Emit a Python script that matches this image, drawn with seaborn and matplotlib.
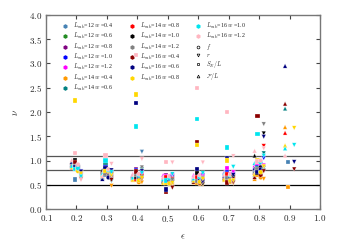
import numpy as np
import pandas as pd
import seaborn as sns
import matplotlib.pyplot as plt
from matplotlib.lines import Line2D
from matplotlib.ticker import FuncFormatter

nan = np.nan

# epsilon values
eps = [0.2, 0.3, 0.4, 0.5, 0.6, 0.7, 0.8, 0.9]

# groups (L_sub, w) and their colours
L_sub = [12, 12, 12, 12, 12, 14, 14, 14, 14, 14, 16, 16, 16, 16, 16]
w_val = [0.4, 0.6, 0.8, 1.0, 1.2, 0.4, 0.6, 0.8, 1.0, 1.2, 0.4, 0.6, 0.8, 1.0, 1.2]
farben = ["#4682b4", "#228b22", "#800080", "#0000ff", "#ff00ff",
          "#ff9900", "#008080", "#ff0000", "#000000", "#808080",
          "#8b0000", "#000080", "#ffd700", "#00e5ee", "#ffb6c1"]

# nu from S_E/L  (rows = eps, cols = groups)
nu_SE = [
    [0.61, 0.92, 0.95, 0.88, 0.85, 0.90, 0.96, 0.97, 1.00, 0.93, 0.97, 0.86, 2.24, 0.82, 1.16],
    [0.70, 0.78, 0.88, 0.92, 0.82, 0.76, 0.95, 0.74, 0.80, 0.72, 0.83, 0.85, 0.78, 1.00, 1.10],
    [0.65, 0.70, 0.82, 0.80, 0.72, 0.60, 0.68, 0.63, 0.66, 0.70, 0.77, 2.19, 2.36, 1.70, 3.17],
    [0.60, 0.55, 0.70, 0.58, 0.68, 0.56, 0.62, 0.65, 0.52, 0.57, 0.36, 0.40, 0.53, 0.59, 0.97],
    [0.60, 0.66, 0.72, 0.78, 0.70, 0.55, 0.62, 0.65, 0.75, 0.58, 1.38, 0.82, 1.32, 1.85, 2.50],
    [0.66, 0.70, 0.75, 0.80, 0.85, 0.62, 0.68, 0.72, 0.60, 0.64, 0.55, 1.05, 1.00, 1.27, 2.00],
    [0.80, 0.84, 0.88, 0.92, 0.95, 0.70, 0.85, 0.78, 0.75, 0.82, 1.92, 0.76, 1.00, 1.55, 0.98],
    [0.97, nan, nan, nan, nan, 0.45, nan, nan, nan, nan, nan, nan, nan, nan, nan],
]

# nu from F/L
nu_F = [
    [0.95, 0.90, 0.85, 0.92, 0.88, 0.87, 0.93, 0.96, 0.98, 0.90, 0.91, 0.97, 0.86, 0.89, 1.01],
    [0.65, 0.70, 0.72, 0.78, 0.74, 0.68, 0.66, 0.76, 0.80, 0.72, 0.75, 0.62, 0.70, 0.73, 0.68],
    [0.62, 0.65, 0.70, 0.68, 0.72, 0.60, 0.64, 0.66, 0.70, 0.63, 0.67, 0.69, 0.61, 0.65, 0.71],
    [0.58, 0.62, 0.65, 0.60, 0.70, 0.55, 0.60, 0.63, 0.57, 0.61, 0.56, 0.59, 0.54, 0.62, 0.66],
    [0.58, 0.60, 0.63, 0.66, 0.70, 0.55, 0.57, 0.62, 0.60, 0.64, 0.56, 0.61, 0.59, 0.63, 0.67],
    [0.62, 0.66, 0.68, 0.72, 0.76, 0.60, 0.64, 0.67, 0.70, 0.65, 0.63, 0.69, 0.61, 0.74, 0.71],
    [0.70, 0.76, 0.82, 0.86, 0.90, 0.62, 0.80, 0.75, 1.10, 0.78, 0.66, 0.84, 0.72, 0.95, 1.20],
    [nan, nan, nan, nan, nan, 1.69, 2.07, 1.57, nan, nan, 2.17, 2.95, 1.31, 1.25, 1.10],
]

# nu from f
nu_f = [
    [0.85, 0.88, 0.80, 0.83, 0.86, 0.82, 0.84, 0.81, 0.87, 0.89, 0.79, 0.90, 0.78, 0.84, 0.92],
    [0.66, 0.70, 0.74, 0.76, 0.72, 0.68, 0.73, 0.71, 0.75, 0.69, 0.77, 0.65, 0.78, 0.80, 0.82],
    [0.58, 0.62, 0.66, 0.70, 0.68, 0.55, 0.60, 0.64, 0.67, 0.61, 0.65, 0.63, 0.59, 0.69, 0.72],
    [0.55, 0.58, 0.62, 0.60, 0.66, 0.52, 0.57, 0.61, 0.56, 0.59, 0.54, 0.58, 0.53, 0.63, 0.68],
    [0.55, 0.58, 0.62, 0.65, 0.68, 0.52, 0.57, 0.60, 0.63, 0.59, 0.54, 0.61, 0.56, 0.66, 0.70],
    [0.60, 0.63, 0.66, 0.70, 0.72, 0.56, 0.62, 0.64, 0.67, 0.61, 0.58, 0.65, 0.59, 0.69, 0.71],
    [0.75, 0.80, 0.85, 0.88, 0.92, 0.65, 0.78, 0.83, 0.86, 0.80, 0.70, 0.82, 0.76, 0.96, 1.00],
    [nan] * 15,
]

# nu from r
nu_r = [
    [0.70, 0.75, 0.72, 0.78, 0.68, 0.65, 0.74, 0.71, 0.76, 0.69, 0.62, 0.77, 0.73, 0.67, 0.60],
    [0.62, 0.66, 0.70, 0.74, 0.68, 0.48, 0.58, 0.64, 0.72, 0.66, 0.60, 0.80, 0.70, 0.76, 0.93],
    [1.18, 0.66, 0.70, 0.75, 0.72, 0.55, 0.82, 0.68, 0.65, 0.86, 0.62, 0.78, 0.64, 0.74, 1.03],
    [0.60, 0.64, 0.68, 0.66, 0.70, 0.50, 0.58, 0.62, 0.56, 0.60, 0.44, 0.55, 0.54, 0.72, 0.96],
    [0.58, 0.62, 0.66, 0.70, 0.68, 0.50, 0.55, 0.60, 0.52, 0.64, 0.56, 0.57, 0.62, 0.74, 0.96],
    [0.60, 0.64, 0.68, 0.72, 0.76, 0.53, 0.58, 0.62, 0.66, 0.56, 0.55, 0.70, 0.59, 0.87, 1.09],
    [0.80, 0.85, 0.88, 1.05, 0.90, 0.62, 1.15, 1.30, 1.56, 1.75, 0.78, 1.49, 0.88, 1.10, 1.25],
    [nan, nan, nan, nan, nan, nan, nan, nan, nan, nan, 0.82, 0.97, 1.67, 1.32, nan],
]

# messgroessen: name, daten, marker, x-versatz
groessen = [
    ("F", nu_F, "^", -0.015),
    ("S", nu_SE, "s", -0.005),
    ("f", nu_f, "o", 0.005),
    ("r", nu_r, "v", 0.015),
]

gruppen = [f"L{l}w{w}" for l, w in zip(L_sub, w_val)]

zeilen = []
for name, werte, mk, dx in groessen:
    for i, e in enumerate(eps):
        for j, g in enumerate(gruppen):
            v = werte[i][j]
            if not np.isnan(v):
                zeilen.append({"eps": e + dx, "nu": v, "gruppe": g, "art": name})
data = pd.DataFrame(zeilen)

sns.set_style("ticks")
plt.rcParams["font.family"] = "serif"
plt.rcParams["font.serif"] = ["Liberation Serif", "DejaVu Serif"]
plt.rcParams["mathtext.fontset"] = "cm"

fig = plt.figure(figsize=(3.38, 2.5), dpi=100)
ax = fig.add_axes([0.136, 0.164, 0.811, 0.776])

for y, c in [(1.1, "#555555"), (0.8, "#555555"), (0.5, "#000000")]:
    ax.axhline(y, color=c, lw=0.9, zorder=1)

sns.scatterplot(
    data=data, x="eps", y="nu",
    hue="gruppe", palette=dict(zip(gruppen, farben)),
    style="art", markers={g[0]: g[2] for g in groessen},
    s=10, linewidth=0.2, edgecolor="white",
    legend=False, ax=ax, zorder=3
)

ax.set_xlim(0.1, 1.0)
ax.set_ylim(0.0, 4.0)
ax.set_xticks(np.arange(0.1, 1.01, 0.1))
ax.set_yticks(np.arange(0.0, 4.01, 0.5))
fmt = FuncFormatter(lambda v, p: f"${v:.1f}$")
ax.xaxis.set_major_formatter(fmt)
ax.yaxis.set_major_formatter(fmt)
ax.tick_params(direction="in", top=True, right=True, length=3, width=0.8,
               labelsize=6.5, color="#444444", pad=3)
for sp in ax.spines.values():
    sp.set_color("#777777")
    sp.set_linewidth(1.0)

ax.set_xlabel(r"$\epsilon$", fontsize=7, labelpad=6)
ax.set_ylabel(r"$\nu$", fontsize=7, labelpad=6)

# legende
griffe = []
texte = []
for l, w, c in zip(L_sub, w_val, farben):
    griffe.append(Line2D([], [], ls="", marker="h", ms=2.2, mfc=c, mec=c))
    texte.append(r"$L_{\rm sub}$=" + f"{l} " + r"$w$ =" + f"{w}")
for mk, lab in [("o", r"$f$"), ("v", r"$r$"), ("s", r"$S_E/L$"), ("^", r"$\mathcal{F}/L$")]:
    griffe.append(Line2D([], [], ls="", marker=mk, ms=2.0, mfc="white", mec="black", mew=0.5))
    texte.append(lab)

leg = ax.legend(griffe, texte, ncol=3, frameon=False, fontsize=4.3,
                loc="upper left", bbox_to_anchor=(0.045, 0.99),
                labelspacing=0.05, handletextpad=0.8, columnspacing=2.6,
                handlelength=1.0, borderaxespad=0.3)
leg.set_zorder(2)

plt.savefig("out.png", dpi=100)
